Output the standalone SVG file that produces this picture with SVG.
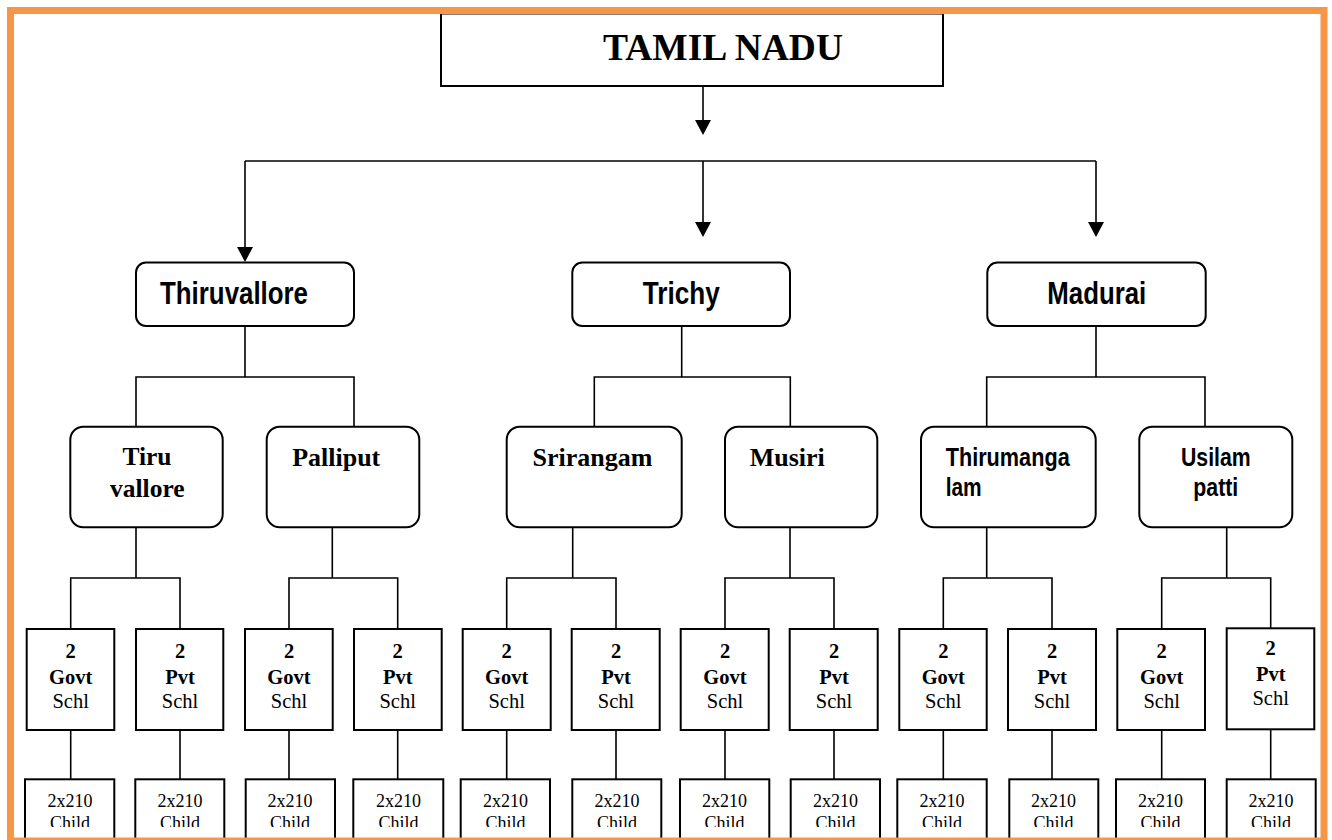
<svg xmlns="http://www.w3.org/2000/svg" width="1332" height="840" viewBox="0 0 1332 840">
<style>
.box{fill:#fff;stroke:#000;stroke-width:2}
.c{fill:none;stroke:#000;stroke-width:1.6}
.serif{font-family:"Liberation Serif","Times New Roman",serif;fill:#000}
.sans{font-family:"Liberation Sans",Arial,sans-serif;font-weight:bold;fill:#000}
.b{font-weight:bold}
.s21{font-size:20.5px;text-anchor:middle}
.s18{font-size:18px;text-anchor:middle}
.cut{clip-path:url(#clipB)}
</style>
<defs>
<marker id="ah" viewBox="0 0 15 16" refX="11" refY="8" markerWidth="15" markerHeight="16" markerUnits="userSpaceOnUse" orient="auto">
<path d="M0,0 L15,8 L0,16 z" fill="#000"/>
</marker>
<clipPath id="clipB" clipPathUnits="userSpaceOnUse"><rect x="0" y="0" width="1332" height="827"/></clipPath>
</defs>
<rect x="0" y="0" width="1332" height="840" fill="#fff"/>

<g id="connectors">
<line class="c" x1="703" y1="86" x2="703" y2="131" marker-end="url(#ah)"/>
<line class="c" x1="245" y1="161" x2="1096" y2="161"/>
<line class="c" x1="245" y1="161" x2="245" y2="258" marker-end="url(#ah)"/>
<line class="c" x1="703" y1="161" x2="703" y2="233" marker-end="url(#ah)"/>
<line class="c" x1="1096" y1="161" x2="1096" y2="233" marker-end="url(#ah)"/>
<path class="c" d="M245,326V377M136,426V377H354V426"/>
<path class="c" d="M681.7,326V377M594.3,426V377H790.3V426"/>
<path class="c" d="M1096,326V377M986.7,426V377H1205V426"/>
<path class="c" d="M136,527V578M70.7,629V578H180V629"/>
<path class="c" d="M332.3,527V578M289,629V578H397.7V629"/>
<path class="c" d="M572.7,527V578M506.7,629V578H616V629"/>
<path class="c" d="M790,527V578M725,629V578H834V629"/>
<path class="c" d="M986.7,527V578M943.3,629V578H1052V629"/>
<path class="c" d="M1226.7,527V578M1161.7,629V578H1270.7V628"/>
<path class="c" d="M70.7,730V779M180,730V779M289,730V779M397.7,730V779M506.7,730V779M616,730V779M725,730V779M834,730V779M943.3,730V779M1052,730V779M1161.7,730V779M1270.7,729V779"/>
</g>

<g id="tamilnadu">
<rect class="box" x="441" y="13.5" width="502" height="72.5"/>
<text class="serif b" x="603" y="60" font-size="38" textLength="240" lengthAdjust="spacingAndGlyphs">TAMIL NADU</text>
</g>

<g id="thiruvallore">
<rect class="box" x="136" y="262.5" width="218" height="63.5" rx="10"/>
<text class="sans" x="160" y="304" font-size="31" textLength="148" lengthAdjust="spacingAndGlyphs">Thiruvallore</text>
</g>
<g id="trichy">
<rect class="box" x="572.3" y="262.5" width="217.7" height="63.5" rx="10"/>
<text class="sans" x="642.7" y="304" font-size="31" textLength="77" lengthAdjust="spacingAndGlyphs">Trichy</text>
</g>
<g id="madurai">
<rect class="box" x="987.3" y="262.5" width="218.4" height="63.5" rx="10"/>
<text class="sans" x="1047.3" y="304" font-size="31" textLength="99" lengthAdjust="spacingAndGlyphs">Madurai</text>
</g>

<g id="tiruvallore">
<rect class="box" x="70.3" y="426.7" width="152.4" height="100.6" rx="13"/>
<text class="serif b" x="147" y="465" font-size="25.5" text-anchor="middle">Tiru</text>
<text class="serif b" x="147.3" y="496.7" font-size="25.5" text-anchor="middle">vallore</text>
</g>
<g id="palliput">
<rect class="box" x="266.7" y="426.7" width="152.6" height="100.6" rx="13"/>
<text class="serif b" x="336.2" y="466" font-size="26" text-anchor="middle">Palliput</text>
</g>
<g id="srirangam">
<rect class="box" x="506.7" y="426.7" width="175" height="100.6" rx="13"/>
<text class="serif b" x="592.5" y="466" font-size="26" text-anchor="middle">Srirangam</text>
</g>
<g id="musiri">
<rect class="box" x="725" y="426.7" width="152.3" height="100.6" rx="13"/>
<text class="serif b" x="787.2" y="466" font-size="26" text-anchor="middle">Musiri</text>
</g>
<g id="thirumangalam">
<rect class="box" x="921" y="426.7" width="174.7" height="100.6" rx="13"/>
<text class="sans" x="945.7" y="466" font-size="26" textLength="124" lengthAdjust="spacingAndGlyphs">Thirumanga</text>
<text class="sans" x="945.7" y="496" font-size="26" textLength="36" lengthAdjust="spacingAndGlyphs">lam</text>
</g>
<g id="usilampatti">
<rect class="box" x="1139.3" y="426.7" width="153" height="100.6" rx="13"/>
<text class="sans" x="1181" y="466" font-size="26" textLength="69.7" lengthAdjust="spacingAndGlyphs">Usilam</text>
<text class="sans" x="1193.3" y="496" font-size="26" textLength="45" lengthAdjust="spacingAndGlyphs">patti</text>
</g>

<g id="school1"><rect class="box" x="26.7" y="629" width="87.6" height="101"/>
<text class="serif b s21" x="70.7" y="658.3">2</text><text class="serif b s21" x="70.7" y="683.8">Govt</text><text class="serif s21" x="70.7" y="708.3">Schl</text></g>
<g id="school2"><rect class="box" x="136" y="629" width="87.3" height="101"/>
<text class="serif b s21" x="180" y="658.3">2</text><text class="serif b s21" x="180" y="683.8">Pvt</text><text class="serif s21" x="180" y="708.3">Schl</text></g>
<g id="school3"><rect class="box" x="245" y="629" width="87.7" height="101"/>
<text class="serif b s21" x="289" y="658.3">2</text><text class="serif b s21" x="289" y="683.8">Govt</text><text class="serif s21" x="289" y="708.3">Schl</text></g>
<g id="school4"><rect class="box" x="354" y="629" width="87.7" height="101"/>
<text class="serif b s21" x="397.7" y="658.3">2</text><text class="serif b s21" x="397.7" y="683.8">Pvt</text><text class="serif s21" x="397.7" y="708.3">Schl</text></g>
<g id="school5"><rect class="box" x="462.7" y="629" width="88" height="101"/>
<text class="serif b s21" x="506.7" y="658.3">2</text><text class="serif b s21" x="506.7" y="683.8">Govt</text><text class="serif s21" x="506.7" y="708.3">Schl</text></g>
<g id="school6"><rect class="box" x="571.7" y="629" width="88" height="101"/>
<text class="serif b s21" x="616" y="658.3">2</text><text class="serif b s21" x="616" y="683.8">Pvt</text><text class="serif s21" x="616" y="708.3">Schl</text></g>
<g id="school7"><rect class="box" x="680.7" y="629" width="88" height="101"/>
<text class="serif b s21" x="725" y="658.3">2</text><text class="serif b s21" x="725" y="683.8">Govt</text><text class="serif s21" x="725" y="708.3">Schl</text></g>
<g id="school8"><rect class="box" x="789.7" y="629" width="88" height="101"/>
<text class="serif b s21" x="834" y="658.3">2</text><text class="serif b s21" x="834" y="683.8">Pvt</text><text class="serif s21" x="834" y="708.3">Schl</text></g>
<g id="school9"><rect class="box" x="899.3" y="629" width="87.4" height="101"/>
<text class="serif b s21" x="943.3" y="658.3">2</text><text class="serif b s21" x="943.3" y="683.8">Govt</text><text class="serif s21" x="943.3" y="708.3">Schl</text></g>
<g id="school10"><rect class="box" x="1008" y="629" width="88" height="101"/>
<text class="serif b s21" x="1052" y="658.3">2</text><text class="serif b s21" x="1052" y="683.8">Pvt</text><text class="serif s21" x="1052" y="708.3">Schl</text></g>
<g id="school11"><rect class="box" x="1117.3" y="629" width="87.7" height="101"/>
<text class="serif b s21" x="1161.7" y="658.3">2</text><text class="serif b s21" x="1161.7" y="683.8">Govt</text><text class="serif s21" x="1161.7" y="708.3">Schl</text></g>
<g id="school12"><rect class="box" x="1226.7" y="628.3" width="87.6" height="101"/>
<text class="serif b s21" x="1270.7" y="655.3">2</text><text class="serif b s21" x="1270.7" y="680.8">Pvt</text><text class="serif s21" x="1270.7" y="705.3">Schl</text></g>

<g id="child1"><rect class="box" x="25" y="779.3" width="89.3" height="60"/><text class="serif s18" x="70" y="806.7">2x210</text><text class="serif s18 cut" x="70" y="829">Child</text></g>
<g id="child2"><rect class="box" x="135.3" y="779.3" width="89" height="60"/><text class="serif s18" x="180" y="806.7">2x210</text><text class="serif s18 cut" x="180" y="829">Child</text></g>
<g id="child3"><rect class="box" x="245.7" y="779.3" width="89.3" height="60"/><text class="serif s18" x="290" y="806.7">2x210</text><text class="serif s18 cut" x="290" y="829">Child</text></g>
<g id="child4"><rect class="box" x="353.3" y="779.3" width="90" height="60"/><text class="serif s18" x="398.5" y="806.7">2x210</text><text class="serif s18 cut" x="398.5" y="829">Child</text></g>
<g id="child5"><rect class="box" x="460.7" y="779.3" width="89.3" height="60"/><text class="serif s18" x="505.5" y="806.7">2x210</text><text class="serif s18 cut" x="505.5" y="829">Child</text></g>
<g id="child6"><rect class="box" x="572.3" y="779.3" width="89" height="60"/><text class="serif s18" x="617" y="806.7">2x210</text><text class="serif s18 cut" x="617" y="829">Child</text></g>
<g id="child7"><rect class="box" x="680" y="779.3" width="89.3" height="60"/><text class="serif s18" x="724.5" y="806.7">2x210</text><text class="serif s18 cut" x="724.5" y="829">Child</text></g>
<g id="child8"><rect class="box" x="790.7" y="779.3" width="89.3" height="60"/><text class="serif s18" x="835.5" y="806.7">2x210</text><text class="serif s18 cut" x="835.5" y="829">Child</text></g>
<g id="child9"><rect class="box" x="897.3" y="779.3" width="89.4" height="60"/><text class="serif s18" x="942" y="806.7">2x210</text><text class="serif s18 cut" x="942" y="829">Child</text></g>
<g id="child10"><rect class="box" x="1009.3" y="779.3" width="89" height="60"/><text class="serif s18" x="1053.5" y="806.7">2x210</text><text class="serif s18 cut" x="1053.5" y="829">Child</text></g>
<g id="child11"><rect class="box" x="1116" y="779.3" width="89" height="60"/><text class="serif s18" x="1160.5" y="806.7">2x210</text><text class="serif s18 cut" x="1160.5" y="829">Child</text></g>
<g id="child12"><rect class="box" x="1226.7" y="779.3" width="89" height="60"/><text class="serif s18" x="1271" y="806.7">2x210</text><text class="serif s18 cut" x="1271" y="829">Child</text></g>

<rect id="frame" x="10.5" y="10.5" width="1313.5" height="830.5" fill="none" stroke="#F79646" stroke-width="7"/>
</svg>
